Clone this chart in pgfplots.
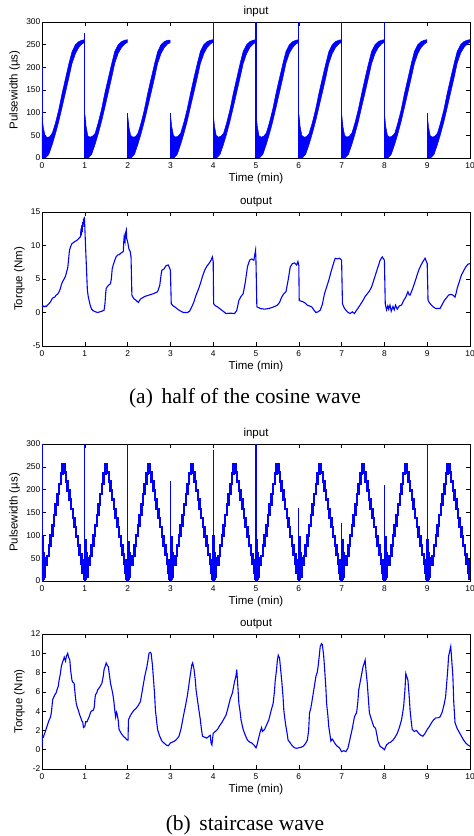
\documentclass[border=0pt]{standalone}
\usepackage{pgfplots}
\pgfplotsset{compat=1.18}
\usepackage{fontspec}
\setmainfont{Liberation Sans}
\newfontfamily\capfont{Liberation Serif}

\pgfplotsset{
  mat/.style={
    scale only axis, width=428pt, anchor=south west,
    xmin=0, xmax=10, xtick={0,1,...,10},
    tick align=inside, major tick length=4pt,
    xtick pos=both, ytick pos=both,
    axis line style={line width=0.6pt},
    every tick/.style={black, line width=0.5pt},
    ticklabel style={font=\fontsize{8.4}{9}\selectfont},
    /pgf/number format/assume math mode=true,
    xticklabel style={anchor=base, yshift=-10.3pt, inner sep=0pt},
    yticklabel style={inner sep=1.5pt},
    label style={font=\fontsize{11.5}{13}\selectfont},
    every axis title shift=0pt,
    title style={font=\fontsize{11.5}{13}\selectfont, at={(0.5,1)}, anchor=base, yshift=7.5pt},
    xlabel={Time (min)},
    xlabel style={at={(0.5,0)}, anchor=base, yshift=-23.7pt},
    scaled ticks=false,
  },
  inp/.style={blue, fill=blue, draw=blue, line width=0.5pt},
}

\begin{document}
\begin{tikzpicture}
\path[use as bounding box] (0pt,0pt) rectangle (474pt,-836pt);

% ---------------- (a) input ----------------
\begin{axis}[mat, at={(42pt,-158pt)}, height=136pt,
  ymin=0, ymax=300, ytick={0,50,...,300},
  ylabel={Pulsewidth (µs)}, ylabel style={at={(-0.0572,0.5)}, anchor=base},
  title={input}]
\addplot[inp] coordinates {(0.005,90)(0.03,68)(0.07,50)(0.12,45)(0.18,47)(0.24,55)(0.31,76)(0.39,106)(0.47,143)(0.55,176)(0.63,209)(0.70,234)(0.78,250)(0.86,257)(0.94,260)(0.995,261)(0.995,255)(0.94,252)(0.86,244)(0.78,230)(0.70,208)(0.63,178)(0.55,145)(0.47,112)(0.39,80)(0.31,52)(0.24,30)(0.16,8)(0.08,0)(0.005,0)} -- cycle;
\addplot[inp] coordinates {(1.005,95)(1.03,70)(1.07,49)(1.12,46)(1.18,48)(1.24,54)(1.31,77)(1.39,107)(1.47,144)(1.55,177)(1.63,209)(1.70,235)(1.78,250)(1.86,257)(1.94,260)(1.995,261)(1.995,255)(1.94,252)(1.86,244)(1.78,231)(1.70,209)(1.63,178)(1.55,145)(1.47,112)(1.39,80)(1.31,52)(1.24,30)(1.16,8)(1.08,0)(1.005,0)} -- cycle;
\addplot[inp] coordinates {(2.005,92)(2.03,69)(2.07,50)(2.12,46)(2.18,47)(2.24,54)(2.31,76)(2.39,106)(2.47,143)(2.55,176)(2.63,208)(2.70,234)(2.78,250)(2.86,257)(2.94,260)(2.995,260)(2.995,254)(2.94,252)(2.86,244)(2.78,230)(2.70,208)(2.63,177)(2.55,144)(2.47,112)(2.39,80)(2.31,52)(2.24,30)(2.16,8)(2.08,0)(2.005,0)} -- cycle;
\addplot[inp] coordinates {(3.005,92)(3.03,70)(3.07,50)(3.12,46)(3.18,48)(3.24,55)(3.31,77)(3.39,107)(3.47,143)(3.55,177)(3.63,209)(3.70,235)(3.78,250)(3.86,257)(3.94,260)(3.995,261)(3.995,255)(3.94,252)(3.86,244)(3.78,230)(3.70,208)(3.63,178)(3.55,145)(3.47,113)(3.39,80)(3.31,52)(3.24,30)(3.16,8)(3.08,0)(3.005,0)} -- cycle;
\addplot[inp] coordinates {(4.005,95)(4.03,70)(4.07,50)(4.12,46)(4.18,48)(4.24,54)(4.31,76)(4.39,106)(4.47,143)(4.55,176)(4.63,209)(4.70,235)(4.78,250)(4.86,257)(4.94,260)(4.995,261)(4.995,255)(4.94,252)(4.86,244)(4.78,230)(4.70,208)(4.63,178)(4.55,145)(4.47,112)(4.39,80)(4.31,52)(4.24,30)(4.16,8)(4.08,0)(4.005,0)} -- cycle;
\addplot[inp] coordinates {(5.005,95)(5.03,70)(5.07,49)(5.12,46)(5.18,48)(5.24,55)(5.31,77)(5.39,107)(5.47,144)(5.55,177)(5.63,209)(5.70,235)(5.78,250)(5.86,257)(5.94,260)(5.995,261)(5.995,255)(5.94,252)(5.86,244)(5.78,231)(5.70,209)(5.63,178)(5.55,145)(5.47,112)(5.39,80)(5.31,52)(5.24,30)(5.16,8)(5.08,0)(5.005,0)} -- cycle;
\addplot[inp] coordinates {(6.005,95)(6.03,70)(6.07,50)(6.12,46)(6.18,47)(6.24,54)(6.31,76)(6.39,106)(6.47,143)(6.55,176)(6.63,208)(6.70,234)(6.78,250)(6.86,257)(6.94,260)(6.995,261)(6.995,255)(6.94,252)(6.86,244)(6.78,230)(6.70,208)(6.63,177)(6.55,144)(6.47,112)(6.39,80)(6.31,52)(6.24,30)(6.16,8)(6.08,0)(6.005,0)} -- cycle;
\addplot[inp] coordinates {(7.005,95)(7.03,70)(7.07,50)(7.12,46)(7.18,48)(7.24,55)(7.31,77)(7.39,107)(7.47,143)(7.55,177)(7.63,209)(7.70,235)(7.78,250)(7.86,257)(7.94,260)(7.995,261)(7.995,255)(7.94,252)(7.86,244)(7.78,230)(7.70,208)(7.63,178)(7.55,145)(7.47,113)(7.39,80)(7.31,52)(7.24,30)(7.16,8)(7.08,0)(7.005,0)} -- cycle;
\addplot[inp] coordinates {(8.005,95)(8.03,70)(8.07,50)(8.12,46)(8.18,48)(8.24,54)(8.31,76)(8.39,106)(8.47,143)(8.55,176)(8.63,209)(8.70,235)(8.78,250)(8.86,257)(8.94,260)(8.995,261)(8.995,255)(8.94,252)(8.86,244)(8.78,230)(8.70,208)(8.63,178)(8.55,145)(8.47,112)(8.39,80)(8.31,52)(8.24,30)(8.16,8)(8.08,0)(8.005,0)} -- cycle;
\addplot[inp] coordinates {(9.005,92)(9.03,69)(9.07,49)(9.12,46)(9.18,48)(9.24,55)(9.31,77)(9.39,107)(9.47,144)(9.55,177)(9.63,209)(9.70,235)(9.78,250)(9.86,257)(9.94,260)(9.995,261)(9.995,255)(9.94,252)(9.86,244)(9.78,231)(9.70,209)(9.63,178)(9.55,145)(9.47,112)(9.39,80)(9.31,52)(9.24,30)(9.16,8)(9.08,0)(9.005,0)} -- cycle;
\addplot[ycomb, blue, line width=1.1pt] coordinates {(0.003,200)(1,275)(2,100)(3,100)(4,320)(5,320)(6,320)(7,320)(8,320)(9,100)};
\end{axis}

% ---------------- (a) output ----------------
\begin{axis}[mat, at={(42pt,-346pt)}, height=134pt,
  ymin=-5, ymax=15, ytick={-5,0,5,10,15},
  ylabel={Torque (Nm)}, ylabel style={at={(-0.0456,0.5)}, anchor=base},
  title={output}]
\addplot[blue, line width=1.1pt] coordinates {
(0,0.8)(0.02,1.0)(0.05,0.85)(0.08,0.95)(0.1,0.9)(0.13,1.1)(0.16,1.3)(0.2,1.6)(0.23,2.0)(0.26,2.2)(0.3,2.3)(0.33,2.6)(0.36,2.7)(0.4,3.1)(0.43,3.6)(0.45,4.1)(0.48,4.6)(0.5,4.8)(0.53,5.2)(0.55,5.4)(0.58,6.2)(0.6,6.6)(0.62,7.8)(0.64,9.2)(0.66,9.7)(0.7,10.3)(0.73,10.4)(0.76,10.6)(0.8,10.7)(0.84,10.9)(0.88,11.2)(0.9,11.3)(0.91,12.5)(0.92,11.5)(0.93,13.0)(0.94,12.0)(0.95,13.5)(0.96,12.8)(0.97,14.0)(0.98,13.2)(0.99,14.3)(1.0,12.8)(1.02,9.5)(1.04,6.5)(1.06,3.3)(1.08,2.4)(1.1,1.8)(1.13,1.0)(1.16,0.5)(1.2,0.25)(1.25,0.1)(1.3,0)(1.35,0.1)(1.4,0.2)(1.45,0.35)(1.47,1.2)(1.49,3.0)(1.5,3.6)(1.53,3.9)(1.56,4.1)(1.6,4.3)(1.62,5.0)(1.64,6.5)(1.66,7.0)(1.7,7.8)(1.73,8.3)(1.77,8.6)(1.8,8.6)(1.85,8.9)(1.9,9.1)(1.91,10.5)(1.92,11.3)(1.94,10.6)(1.95,11.8)(1.97,12.3)(1.98,11.0)(2.0,10.6)(2.03,9.5)(2.06,9.1)(2.08,8.3)(2.1,2.6)(2.14,2.1)(2.2,1.8)(2.25,1.5)(2.3,2.0)(2.35,2.2)(2.4,2.4)(2.5,2.6)(2.6,2.8)(2.7,3.1)(2.75,4.0)(2.78,5.5)(2.8,6.3)(2.85,6.5)(2.9,7.0)(2.95,7.1)(2.99,6.5)(3.0,6.3)(3.02,1.3)(3.06,1.0)(3.1,0.85)(3.15,0.6)(3.2,0.35)(3.3,0)(3.4,0)(3.45,0.2)(3.5,0.85)(3.55,1.6)(3.6,2.6)(3.65,3.4)(3.7,4.3)(3.75,5.4)(3.8,6.3)(3.85,6.9)(3.9,7.3)(3.95,7.8)(3.98,8.3)(4.0,7.6)(4.01,1.3)(4.05,1.0)(4.1,0.85)(4.15,0.6)(4.2,0.35)(4.3,-0.15)(4.4,-0.1)(4.5,-0.15)(4.55,0.3)(4.6,1.8)(4.65,2.4)(4.7,2.8)(4.75,4.5)(4.8,6.8)(4.85,7.8)(4.9,8.0)(4.95,7.8)(4.99,9.3)(5.0,7.5)(5.02,0.85)(5.1,0.6)(5.2,0.5)(5.3,0.6)(5.4,0.8)(5.5,1.1)(5.55,1.5)(5.6,2.3)(5.65,2.8)(5.7,3.1)(5.75,4.8)(5.8,6.8)(5.85,7.3)(5.9,7.4)(5.95,7.1)(5.98,7.6)(6.0,7.0)(6.01,1.8)(6.05,1.7)(6.1,1.6)(6.15,1.4)(6.2,1.1)(6.3,0.85)(6.35,0.4)(6.4,0)(6.45,0.1)(6.5,0.35)(6.55,1.2)(6.6,2.8)(6.65,3.8)(6.7,4.8)(6.75,6.0)(6.8,7.1)(6.85,8.1)(6.9,8.0)(6.95,8.1)(7.0,7.8)(7.02,1.3)(7.06,0.7)(7.1,0.35)(7.15,0)(7.2,-0.15)(7.25,0.1)(7.3,-0.15)(7.35,0.35)(7.4,0.8)(7.45,1.3)(7.5,1.8)(7.55,2.4)(7.6,2.8)(7.65,3.2)(7.7,3.8)(7.75,4.8)(7.8,5.8)(7.85,6.8)(7.9,7.8)(7.95,8.3)(8.0,7.8)(8.02,1.3)(8.05,0.4)(8.08,1.0)(8.1,0.5)(8.13,1.1)(8.16,0.2)(8.2,0.9)(8.23,0.4)(8.26,1.1)(8.3,0.5)(8.35,1.0)(8.4,1.1)(8.45,1.8)(8.5,2.3)(8.55,3.1)(8.58,2.6)(8.6,2.6)(8.65,3.4)(8.7,4.3)(8.75,5.3)(8.8,6.3)(8.85,7.0)(8.9,7.6)(8.95,8.1)(9.0,7.3)(9.02,1.8)(9.06,1.4)(9.1,1.1)(9.15,0.8)(9.2,0.6)(9.3,0.6)(9.35,1.2)(9.4,1.8)(9.45,2.2)(9.5,2.6)(9.55,2.7)(9.6,2.6)(9.65,2.3)(9.68,3.0)(9.7,3.6)(9.75,4.6)(9.8,5.6)(9.85,6.2)(9.9,6.8)(9.95,7.2)(10.0,7.3)};
\end{axis}
\node[font=\capfont\fontsize{21.5}{25}\selectfont] at (245pt,-398pt) {(a)\hspace{0.4em}half of the cosine wave};

% ---------------- (b) input ----------------
\begin{axis}[mat, at={(42pt,-581pt)}, height=137pt,
  ymin=0, ymax=300, ytick={0,50,...,300},
  ylabel={Pulsewidth (µs)}, ylabel style={at={(-0.0572,0.5)}, anchor=base},
  title={input}]
\addplot[blue, const plot, line width=2.5pt] coordinates {
(0,0)(0.01,95)(0.02,5)(0.03,60)(0.045,10)(0.06,50)(0.08,35)(0.12,55)(0.16,78)(0.2,100)(0.24,122)(0.28,145)(0.32,168)(0.36,190)(0.4,212)(0.44,235)(0.48,255)(0.52,238)(0.56,218)(0.6,198)(0.64,178)(0.68,158)(0.72,138)(0.76,118)(0.8,98)(0.84,78)(0.88,58)(0.92,38)(0.95,18)(0.97,45)(0.98,5)(0.99,30)
(1,0)(1.01,90)(1.02,5)(1.03,60)(1.045,10)(1.06,50)(1.08,35)(1.12,55)(1.16,78)(1.2,100)(1.24,122)(1.28,145)(1.32,168)(1.36,190)(1.4,212)(1.44,235)(1.48,255)(1.52,238)(1.56,218)(1.6,198)(1.64,178)(1.68,158)(1.72,138)(1.76,118)(1.8,98)(1.84,78)(1.88,58)(1.92,38)(1.95,18)(1.97,45)(1.98,5)(1.99,30)
(2,0)(2.01,85)(2.02,5)(2.03,60)(2.045,10)(2.06,50)(2.08,35)(2.12,55)(2.16,78)(2.2,100)(2.24,122)(2.28,145)(2.32,168)(2.36,190)(2.4,212)(2.44,235)(2.48,255)(2.52,238)(2.56,218)(2.6,198)(2.64,178)(2.68,158)(2.72,138)(2.76,118)(2.8,98)(2.84,78)(2.88,58)(2.92,38)(2.95,18)(2.97,45)(2.98,5)(2.99,30)
(3,0)(3.01,95)(3.02,5)(3.03,60)(3.045,10)(3.06,50)(3.08,35)(3.12,55)(3.16,78)(3.2,100)(3.24,122)(3.28,145)(3.32,168)(3.36,190)(3.4,212)(3.44,235)(3.48,255)(3.52,238)(3.56,218)(3.6,198)(3.64,178)(3.68,158)(3.72,138)(3.76,118)(3.8,98)(3.84,78)(3.88,58)(3.92,38)(3.95,18)(3.97,45)(3.98,5)(3.99,30)
(4,0)(4.01,97)(4.02,5)(4.03,60)(4.045,10)(4.06,50)(4.08,35)(4.12,55)(4.16,78)(4.2,100)(4.24,122)(4.28,145)(4.32,168)(4.36,190)(4.4,212)(4.44,235)(4.48,255)(4.52,238)(4.56,218)(4.6,198)(4.64,178)(4.68,158)(4.72,138)(4.76,118)(4.8,98)(4.84,78)(4.88,58)(4.92,38)(4.95,18)(4.97,45)(4.98,5)(4.99,30)
(5,0)(5.01,90)(5.02,5)(5.03,60)(5.045,10)(5.06,50)(5.08,35)(5.12,55)(5.16,78)(5.2,100)(5.24,122)(5.28,145)(5.32,168)(5.36,190)(5.4,212)(5.44,235)(5.48,255)(5.52,238)(5.56,218)(5.6,198)(5.64,178)(5.68,158)(5.72,138)(5.76,118)(5.8,98)(5.84,78)(5.88,58)(5.92,38)(5.95,18)(5.97,45)(5.98,5)(5.99,30)
(6,0)(6.01,95)(6.02,5)(6.03,60)(6.045,10)(6.06,50)(6.08,35)(6.12,55)(6.16,78)(6.2,100)(6.24,122)(6.28,145)(6.32,168)(6.36,190)(6.4,212)(6.44,235)(6.48,255)(6.52,238)(6.56,218)(6.6,198)(6.64,178)(6.68,158)(6.72,138)(6.76,118)(6.8,98)(6.84,78)(6.88,58)(6.92,38)(6.95,18)(6.97,45)(6.98,5)(6.99,30)
(7,0)(7.01,90)(7.02,5)(7.03,60)(7.045,10)(7.06,50)(7.08,35)(7.12,55)(7.16,78)(7.2,100)(7.24,122)(7.28,145)(7.32,168)(7.36,190)(7.4,212)(7.44,235)(7.48,255)(7.52,238)(7.56,218)(7.6,198)(7.64,178)(7.68,158)(7.72,138)(7.76,118)(7.8,98)(7.84,78)(7.88,58)(7.92,38)(7.95,18)(7.97,45)(7.98,5)(7.99,30)
(8,0)(8.01,95)(8.02,5)(8.03,60)(8.045,10)(8.06,50)(8.08,35)(8.12,55)(8.16,78)(8.2,100)(8.24,122)(8.28,145)(8.32,168)(8.36,190)(8.4,212)(8.44,235)(8.48,255)(8.52,238)(8.56,218)(8.6,198)(8.64,178)(8.68,158)(8.72,138)(8.76,118)(8.8,98)(8.84,78)(8.88,58)(8.92,38)(8.95,18)(8.97,45)(8.98,5)(8.99,30)
(9,0)(9.01,90)(9.02,5)(9.03,60)(9.045,10)(9.06,50)(9.08,35)(9.12,55)(9.16,78)(9.2,100)(9.24,122)(9.28,145)(9.32,168)(9.36,190)(9.4,212)(9.44,235)(9.48,255)(9.52,238)(9.56,218)(9.6,198)(9.64,178)(9.68,158)(9.72,138)(9.76,118)(9.8,98)(9.84,78)(9.88,58)(9.92,38)(9.95,18)(9.97,45)(9.98,5)(10,5)};
\addplot[ycomb, blue, line width=1.1pt] coordinates {(0.003,320)(1,320)(2,320)(3,218)(4,286)(5,320)(6,159)(7,126)(8,211)(9,320)};
\end{axis}

% ---------------- (b) output ----------------
\begin{axis}[mat, at={(42pt,-769pt)}, height=135pt,
  ymin=-2, ymax=12, ytick={-2,0,...,12},
  ylabel={Torque (Nm)}, ylabel style={at={(-0.0456,0.5)}, anchor=base},
  title={output}]
\addplot[blue, line width=1.1pt] coordinates {
(0,0.3)(0.01,1.4)(0.03,1.3)(0.05,1.55)(0.08,1.9)(0.1,2.2)(0.13,2.6)(0.16,3.0)(0.2,3.4)(0.22,3.9)(0.24,4.8)(0.25,5.2)(0.28,5.5)(0.3,5.7)(0.33,5.9)(0.35,6.2)(0.38,6.6)(0.4,7.2)(0.43,7.9)(0.45,8.6)(0.48,9.1)(0.5,9.3)(0.52,9.6)(0.55,9.2)(0.57,9.7)(0.6,10.0)(0.62,9.6)(0.65,9.3)(0.67,8.2)(0.7,7.2)(0.72,7.0)(0.75,6.9)(0.78,5.5)(0.8,4.8)(0.83,4.3)(0.85,4.1)(0.88,3.6)(0.9,3.4)(0.93,3.0)(0.95,2.9)(0.97,2.3)(1.0,2.4)(1.02,2.9)(1.05,2.9)(1.08,3.2)(1.1,3.4)(1.13,3.8)(1.15,4.0)(1.2,4.1)(1.22,4.4)(1.24,5.4)(1.25,5.7)(1.28,5.9)(1.3,6.2)(1.35,6.5)(1.4,6.9)(1.43,7.6)(1.45,8.3)(1.48,8.7)(1.5,9.0)(1.52,8.8)(1.55,8.6)(1.58,7.6)(1.6,6.9)(1.63,6.3)(1.65,5.9)(1.68,5.0)(1.7,4.1)(1.72,3.4)(1.74,3.9)(1.75,3.8)(1.78,3.1)(1.8,2.1)(1.85,1.7)(1.9,1.4)(1.95,1.2)(1.99,1.0)(2.01,1.0)(2.02,3.1)(2.06,3.5)(2.1,3.8)(2.15,4.1)(2.2,4.3)(2.25,4.6)(2.3,5.0)(2.35,6.3)(2.4,7.6)(2.43,8.2)(2.45,8.6)(2.48,9.4)(2.5,10.0)(2.53,10.1)(2.55,10.0)(2.58,8.8)(2.6,7.6)(2.63,5.8)(2.65,4.1)(2.68,2.9)(2.7,2.1)(2.75,1.4)(2.8,0.9)(2.85,0.7)(2.9,0.5)(2.95,0.4)(3.0,0.7)(3.05,0.8)(3.1,0.9)(3.15,1.1)(3.2,1.4)(3.25,2.2)(3.3,3.4)(3.35,4.5)(3.4,5.7)(3.45,7.3)(3.5,8.8)(3.52,9.0)(3.55,8.4)(3.58,7.3)(3.6,6.2)(3.65,4.6)(3.7,3.1)(3.72,2.3)(3.75,1.4)(3.8,1.3)(3.85,1.2)(3.9,1.4)(3.93,1.5)(3.95,0.7)(3.97,0.5)(4.0,1.7)(4.05,1.9)(4.1,2.1)(4.15,2.5)(4.2,2.8)(4.25,3.2)(4.3,3.6)(4.35,4.4)(4.4,5.3)(4.45,5.9)(4.5,7.1)(4.53,7.6)(4.55,8.3)(4.57,7.0)(4.6,4.8)(4.63,3.9)(4.65,3.1)(4.7,2.1)(4.75,1.5)(4.8,1.0)(4.85,0.8)(4.9,0.7)(4.95,0.5)(5.0,0.2)(5.03,0.6)(5.05,1.0)(5.1,1.9)(5.13,2.3)(5.15,1.9)(5.2,2.1)(5.25,2.6)(5.3,3.1)(5.35,4.0)(5.4,4.8)(5.43,6.0)(5.45,7.2)(5.48,8.3)(5.5,9.3)(5.52,9.8)(5.55,9.5)(5.57,8.6)(5.6,7.2)(5.63,5.6)(5.65,4.1)(5.68,3.0)(5.7,2.4)(5.73,1.6)(5.75,1.0)(5.8,0.7)(5.85,0.4)(5.9,0.2)(5.95,0.15)(6.0,0.2)(6.05,0.25)(6.1,0.35)(6.15,0.6)(6.2,1.0)(6.23,2.0)(6.25,3.8)(6.28,4.3)(6.3,4.8)(6.35,6.2)(6.4,7.6)(6.43,8.0)(6.45,8.6)(6.48,9.8)(6.5,10.7)(6.53,11.0)(6.55,10.9)(6.58,9.8)(6.6,8.6)(6.63,6.6)(6.65,4.8)(6.68,3.5)(6.7,2.4)(6.73,1.5)(6.75,0.9)(6.78,1.1)(6.8,1.0)(6.85,0.6)(6.9,0.35)(6.95,0.2)(7.0,-0.2)(7.05,-0.1)(7.1,-0.2)(7.15,0.2)(7.2,1.2)(7.25,2.2)(7.3,3.4)(7.33,3.7)(7.35,3.8)(7.38,5.0)(7.4,6.2)(7.45,7.4)(7.5,8.6)(7.53,9.0)(7.55,9.3)(7.57,8.2)(7.6,6.9)(7.63,5.0)(7.65,3.8)(7.7,3.1)(7.75,2.4)(7.78,2.3)(7.8,2.1)(7.83,1.4)(7.85,0.9)(7.9,0.35)(7.95,0.2)(8.0,0.0)(8.05,0.5)(8.1,0.7)(8.15,0.8)(8.2,1.0)(8.25,1.3)(8.3,1.7)(8.35,2.3)(8.4,3.1)(8.43,3.9)(8.45,4.5)(8.48,6.2)(8.5,7.9)(8.52,7.6)(8.55,7.2)(8.58,5.5)(8.6,4.1)(8.63,2.8)(8.65,2.1)(8.7,1.9)(8.75,2.0)(8.8,1.7)(8.85,1.5)(8.9,1.4)(8.95,1.7)(9.0,2.1)(9.05,2.4)(9.1,2.8)(9.15,3.1)(9.2,3.3)(9.25,3.3)(9.3,3.4)(9.35,3.9)(9.4,4.8)(9.43,5.5)(9.45,6.6)(9.48,8.3)(9.5,9.7)(9.53,10.3)(9.55,10.7)(9.57,9.5)(9.6,7.6)(9.62,5.0)(9.65,2.8)(9.7,2.2)(9.75,1.8)(9.8,1.4)(9.85,1.0)(9.9,0.7)(9.95,0.5)(10.0,0.35)};
\end{axis}
\node[font=\capfont\fontsize{21.5}{25}\selectfont] at (245pt,-825.5pt) {(b)\hspace{0.4em}staircase wave};
\end{tikzpicture}
\end{document}
